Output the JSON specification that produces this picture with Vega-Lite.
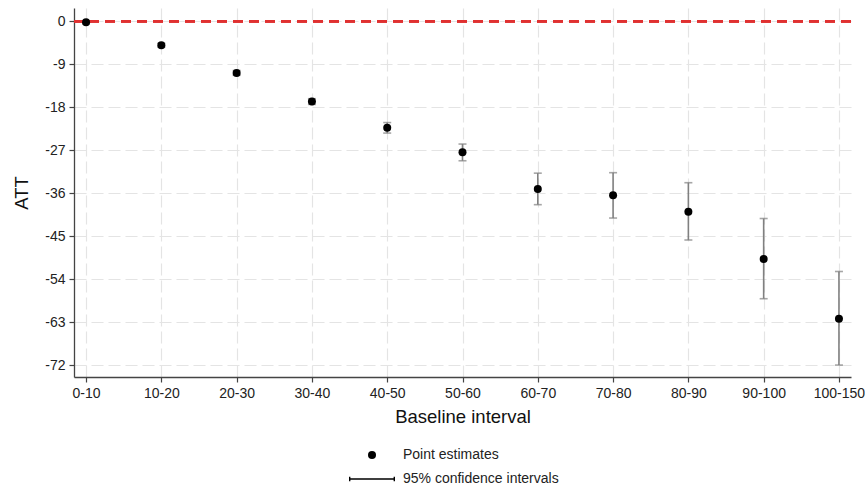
{
  "$schema": "https://vega.github.io/schema/vega-lite/v6.json",
  "width": 777,
  "height": 369,
  "padding": {"left": 12, "top": 8, "right": 0, "bottom": 5},
  "background": "white",
  "config": {
    "font": "Liberation Sans",
    "view": {"stroke": null},
    "axis": {
      "labelFont": "Liberation Sans",
      "titleFont": "Liberation Sans",
      "labelColor": "#222",
      "titleColor": "#111",
      "titleFontWeight": "normal",
      "domainColor": "#444",
      "domainWidth": 1.3,
      "tickColor": "#444",
      "tickWidth": 1.2,
      "tickSize": 5,
      "gridColor": "#e4e4e4",
      "gridDash": [12, 5],
      "gridWidth": 1.2
    }
  },
  "data": {
    "values": [
      {"interval": "0-10", "est": -0.2, "lo": -0.5, "hi": 0.1},
      {"interval": "10-20", "est": -5.0, "lo": -5.4, "hi": -4.6},
      {"interval": "20-30", "est": -10.8, "lo": -11.3, "hi": -10.3},
      {"interval": "30-40", "est": -16.8, "lo": -17.4, "hi": -16.2},
      {"interval": "40-50", "est": -22.3, "lo": -23.4, "hi": -21.2},
      {"interval": "50-60", "est": -27.4, "lo": -29.2, "hi": -25.7},
      {"interval": "60-70", "est": -35.1, "lo": -38.4, "hi": -31.8},
      {"interval": "70-80", "est": -36.4, "lo": -41.2, "hi": -31.7},
      {"interval": "80-90", "est": -39.9, "lo": -45.8, "hi": -33.8},
      {"interval": "90-100", "est": -49.8, "lo": -58.1, "hi": -41.3},
      {"interval": "100-150", "est": -62.3, "lo": -72.0, "hi": -52.4}
    ]
  },
  "encoding": {
    "x": {
      "field": "interval",
      "type": "ordinal",
      "sort": null,
      "scale": {"type": "point", "padding": 0.16},
      "axis": {
        "title": "Baseline interval",
        "grid": true,
        "labelAngle": 0,
        "labelFontSize": 14,
        "labelPadding": 4,
        "titleFontSize": 18.5,
        "titlePadding": 7
      }
    }
  },
  "layer": [
    {
      "mark": {"type": "rule", "color": "#808080", "strokeWidth": 1.6},
      "encoding": {
        "y": {
          "field": "lo",
          "type": "quantitative",
          "scale": {"domain": [-74.5, 2.8], "nice": false, "zero": false},
          "axis": {
            "title": "ATT",
            "values": [0, -9, -18, -27, -36, -45, -54, -63, -72],
            "labelExpr": "replace(datum.label, '−', '-')",
            "labelFontSize": 14,
            "labelPadding": 4,
            "titleFontSize": 18.5,
            "titlePadding": 13
          }
        },
        "y2": {"field": "hi"}
      }
    },
    {
      "mark": {"type": "tick", "color": "#808080", "size": 8, "thickness": 1.6, "orient": "horizontal"},
      "encoding": {"y": {"field": "lo", "type": "quantitative"}}
    },
    {
      "mark": {"type": "tick", "color": "#808080", "size": 8, "thickness": 1.6, "orient": "horizontal"},
      "encoding": {"y": {"field": "hi", "type": "quantitative"}}
    },
    {
      "mark": {"type": "rule", "color": "#e03131", "strokeWidth": 2, "strokeDash": [10, 6]},
      "encoding": {"y": {"datum": 0, "type": "quantitative"}, "x": null}
    },
    {
      "mark": {"type": "point", "filled": true, "color": "black", "size": 64, "opacity": 1},
      "encoding": {
        "y": {"field": "est", "type": "quantitative"},
        "shape": {
          "datum": "Point estimates",
          "type": "nominal",
          "scale": {
            "domain": ["Point estimates", "95% confidence intervals"],
            "range": ["circle", "M-5.75,-0.17H5.75V0.17H-5.75Z M-5.75,-0.55H-5.4V0.55H-5.75Z M5.4,-0.55H5.75V0.55H5.4Z"]
          },
          "legend": {
            "title": null,
            "orient": "none",
            "legendX": 291,
            "legendY": 440,
            "direction": "vertical",
            "labelFont": "Liberation Sans",
            "labelFontSize": 14,
            "labelColor": "#222",
            "symbolSize": 64,
            "rowPadding": 10,
            "labelOffset": 24
          }
        }
      }
    }
  ]
}
